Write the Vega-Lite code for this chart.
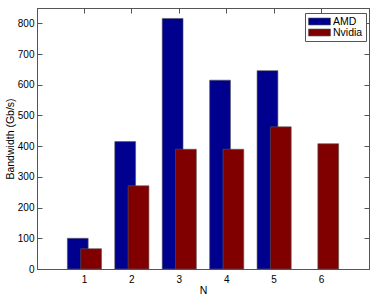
{
  "$schema": "https://vega.github.io/schema/vega-lite/v6.json",
  "width": 332,
  "height": 261,
  "autosize": {"type": "none"},
  "padding": {"left": 37, "top": 8, "right": 5, "bottom": 28},
  "data": {
    "values": [
      {"N": "1", "Series": "AMD", "Bandwidth": 100},
      {"N": "2", "Series": "AMD", "Bandwidth": 415},
      {"N": "3", "Series": "AMD", "Bandwidth": 816},
      {"N": "4", "Series": "AMD", "Bandwidth": 615},
      {"N": "5", "Series": "AMD", "Bandwidth": 646},
      {"N": "1", "Series": "Nvidia", "Bandwidth": 66},
      {"N": "2", "Series": "Nvidia", "Bandwidth": 271},
      {"N": "3", "Series": "Nvidia", "Bandwidth": 390},
      {"N": "4", "Series": "Nvidia", "Bandwidth": 390},
      {"N": "5", "Series": "Nvidia", "Bandwidth": 463},
      {"N": "6", "Series": "Nvidia", "Bandwidth": 408}
    ]
  },
  "layer": [
    {
      "mark": {"type": "bar", "stroke": "#555", "strokeWidth": 0.6, "width": 20.8},
      "encoding": {
        "x": {
          "field": "N", "type": "ordinal",
          "scale": {"domain": ["1","2","3","4","5","6"], "paddingInner": 0, "paddingOuter": 0.5},
          "axis": {"title": "N", "labelAngle": 0, "tickSize": -5, "labelPadding": 10, "titlePadding": 1}
        },
        "xOffset": {
          "field": "Series", "type": "nominal",
          "scale": {"domain": ["AMD", "Nvidia"], "paddingInner": 0, "paddingOuter": 0.78}
        },
        "y": {
          "field": "Bandwidth", "type": "quantitative",
          "scale": {"domain": [0, 850], "nice": false},
          "axis": {"title": "Bandwidth (Gb/s)", "values": [0,100,200,300,400,500,600,700,800], "tickSize": -5, "labelPadding": 8, "titlePadding": 2}
        },
        "color": {
          "field": "Series", "type": "nominal",
          "scale": {"domain": ["AMD", "Nvidia"], "range": ["#00008F", "#800000"]},
          "legend": {
            "title": null, "orient": "none", "legendX": 268, "legendY": 5,
            "symbolType": "M-2.2,-0.7H2.2V0.7H-2.2Z", "symbolSize": 100,
            "symbolOffset": 6,
            "symbolStrokeColor": "#555", "symbolStrokeWidth": 0.6,
            "labelFontSize": 10.5, "labelFont": "Liberation Sans", "labelColor": "#000",
            "labelOffset": 8, "rowPadding": 0,
            "padding": 3, "strokeColor": "#555", "fillColor": "#fff"
          }
        }
      }
    },
    {
      "mark": {"type": "bar", "opacity": 0},
      "encoding": {
        "x": {
          "field": "N", "type": "ordinal",
          "scale": {"domain": ["1","2","3","4","5","6"], "paddingInner": 0, "paddingOuter": 0.5},
          "axis": {"orient": "top", "title": null, "labels": false, "tickSize": -5}
        },
        "y": {
          "field": "Bandwidth", "type": "quantitative",
          "scale": {"domain": [0, 850], "nice": false},
          "axis": {"orient": "right", "title": null, "labels": false, "values": [0,100,200,300,400,500,600,700,800], "tickSize": -5}
        }
      }
    }
  ],
  "resolve": {"axis": {"x": "independent", "y": "independent"}},
  "config": {
    "view": {"stroke": "#555", "strokeWidth": 1},
    "axis": {
      "grid": false,
      "domainColor": "#555",
      "tickColor": "#555",
      "labelColor": "#000",
      "titleColor": "#000",
      "labelFont": "Liberation Sans",
      "titleFont": "Liberation Sans",
      "labelFontSize": 10,
      "titleFontSize": 10.5,
      "titleFontWeight": "normal"
    }
  }
}
